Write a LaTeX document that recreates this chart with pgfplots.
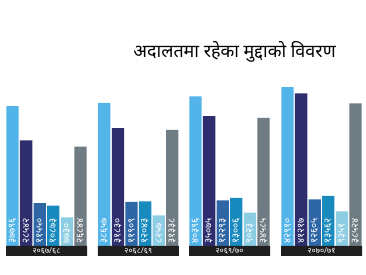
\documentclass[border=0pt]{standalone}
\usepackage{fontspec}
\setmainfont{Noto Sans}
\newfontfamily\deva[Script=Devanagari]{Noto Sans}
\usepackage{pgfplots}
\pgfplotsset{compat=1.18}
\definecolor{cA}{RGB}{82,180,232}
\definecolor{cB}{RGB}{46,45,110}
\definecolor{cC}{RGB}{47,102,166}
\definecolor{cD}{RGB}{24,138,190}
\definecolor{cE}{RGB}{140,205,228}
\definecolor{cF}{RGB}{112,124,131}
\begin{document}
\begin{tikzpicture}
\begin{axis}[
  scale only axis, width=366bp, height=275bp,
  xmin=0, xmax=366, ymin=-7830, ymax=66420,
  hide axis, clip=false,
  ybar, bar width=12.3bp,
  point meta=explicit symbolic,
  nodes near coords,
  visualization depends on={rawy \as \rawy},
  every node near coord/.append style={shift={(axis direction cs:0,-\rawy)}, rotate=90, anchor=west, inner ysep=0pt, inner xsep=2bp, text=white, font=\deva\bfseries\fontsize{10}{10}\selectfont},
]
\path (rel axis cs:0,0) rectangle (rel axis cs:1,1);
\addplot[fill=cA, draw=none, bar shift=-34bp] coordinates {
 (46.5,37796) [३७७९६] (138.3,38657) [३८६५७] (229.5,40396) [४०३९६] (321.5,42910) [४२९१०]};
\addplot[fill=cB, draw=none, bar shift=-20.4bp] coordinates {
 (46.5,28542) [२८५४२] (138.3,31830) [३१८३०] (229.5,35075) [३५०७५] (321.5,41217) [४१२१७]};
\addplot[fill=cC, draw=none, bar shift=-6.8bp] coordinates {
 (46.5,11550) [११५५०] (138.3,11909) [११९०९] (229.5,12293) [१२२९३] (321.5,12605) [१२६०५]};
\addplot[fill=cD, draw=none, bar shift=6.8bp] coordinates {
 (46.5,10873) [१०८७३] (138.3,12043) [१२०४३] (229.5,13006) [१३००६] (321.5,13562) [१३५६२]};
\addplot[fill=cE, draw=none, bar shift=20.4bp] coordinates {
 (46.5,7730) [७७३०] (138.3,8257) [८२५७] (229.5,9023) [९०२३] (321.5,9351) [९३५१]};
\addplot[fill=cF, draw=none, bar shift=34bp] coordinates {
 (46.5,26844) [२६८४४] (138.3,31338) [३१३३८] (229.5,34585) [३४५८५] (321.5,38524) [३८५२४]};
\addplot[fill=black!88, draw=none, bar shift=0bp, bar width=81bp,
  every node near coord/.style={shift={(axis direction cs:0,1350)}, anchor=center, inner sep=0pt, text=white, font=\deva\fontsize{8}{8}\selectfont}] coordinates {
 (46.5,-2700) [२०६७/६८] (138.3,-2700) [२०६८/६९] (229.5,-2700) [२०६९/७०] (321.5,-2700) [२०७०/७१]};
\node[font=\deva\fontsize{18}{20}\selectfont, anchor=center] at (rel axis cs:0.641,0.811) {अदालतमा रहेका मुद्दाको विवरण};
\end{axis}
\end{tikzpicture}
\end{document}
